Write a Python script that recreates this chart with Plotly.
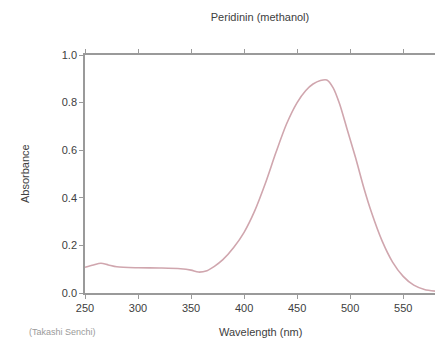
import plotly.graph_objects as go

# Peridinin absorption spectrum in methanol
wavelength_nm = [250, 258, 265, 272, 280, 300, 320, 340, 350, 357, 365, 372, 380,
                 390, 400, 410, 420, 430, 440, 450, 458, 465, 472, 478, 484, 490,
                 497, 505, 513, 520, 530, 540, 550, 560, 570, 580]
absorbance = [0.108, 0.118, 0.125, 0.118, 0.110, 0.106, 0.105, 0.102, 0.096, 0.088,
              0.094, 0.112, 0.140, 0.190, 0.255, 0.345, 0.460, 0.590, 0.710, 0.800,
              0.850, 0.878, 0.893, 0.895, 0.862, 0.795, 0.690, 0.570, 0.440, 0.340,
              0.220, 0.130, 0.070, 0.033, 0.015, 0.008]

x_ticks = [250, 300, 350, 400, 450, 500, 550]
y_ticks = [0.0, 0.2, 0.4, 0.6, 0.8, 1.0]

FONT = "Liberation Sans, Arial, sans-serif"
AXIS = "#9a9a9a"
TEXT = "#404040"

fig = go.Figure(
    go.Scatter(
        x=wavelength_nm, y=absorbance, mode="lines",
        line=dict(color="#d0a6ae", width=1.6, shape="spline", smoothing=0.8),
        hoverinfo="skip",
    )
)

fig.update_layout(
    width=435, height=343,
    margin=dict(l=85, r=0, t=55, b=50),
    paper_bgcolor="white", plot_bgcolor="white",
    showlegend=False,
    font=dict(family=FONT, size=11, color=TEXT),
    title=dict(text="Peridinin (methanol)", x=0.5, xref="paper",
               y=1 - 17 / 343, yref="container", yanchor="middle", xanchor="center",
               font=dict(family=FONT, size=11, color=TEXT)),
)

fig.update_xaxes(
    range=[250, 580], tickvals=x_ticks, ticktext=[str(v) for v in x_ticks],
    showgrid=False, zeroline=False,
    showline=True, linecolor=AXIS, linewidth=1.5, mirror="ticks",
    ticks="outside", ticklen=4, tickcolor=AXIS, tickwidth=1,
    tickfont=dict(family=FONT, size=11, color=TEXT),
)
fig.update_yaxes(
    range=[0, 1.0], tickvals=y_ticks, tickformat=".1f",
    showgrid=False, zeroline=False,
    showline=True, linecolor=AXIS, linewidth=1.5,
    ticks="outside", ticklen=4, tickcolor=AXIS, tickwidth=1,
    tickfont=dict(family=FONT, size=11, color=TEXT),
)

fig.add_annotation(text="Wavelength (nm)", xref="paper", yref="paper",
                   x=0.5, y=-39 / 238, xanchor="center", yanchor="middle",
                   showarrow=False, font=dict(family=FONT, size=11, color=TEXT))
fig.add_annotation(text="Absorbance", xref="paper", yref="paper",
                   x=-60 / 350, y=0.5, xanchor="center", yanchor="middle",
                   textangle=-90, showarrow=False,
                   font=dict(family=FONT, size=11, color=TEXT))
fig.add_annotation(text="(Takashi Senchi)", xref="paper", yref="paper",
                   x=-58 / 350, y=-39 / 238, xanchor="left", yanchor="middle",
                   showarrow=False, font=dict(family=FONT, size=9, color="#9a9a9a"))

fig.write_html("out.html")
